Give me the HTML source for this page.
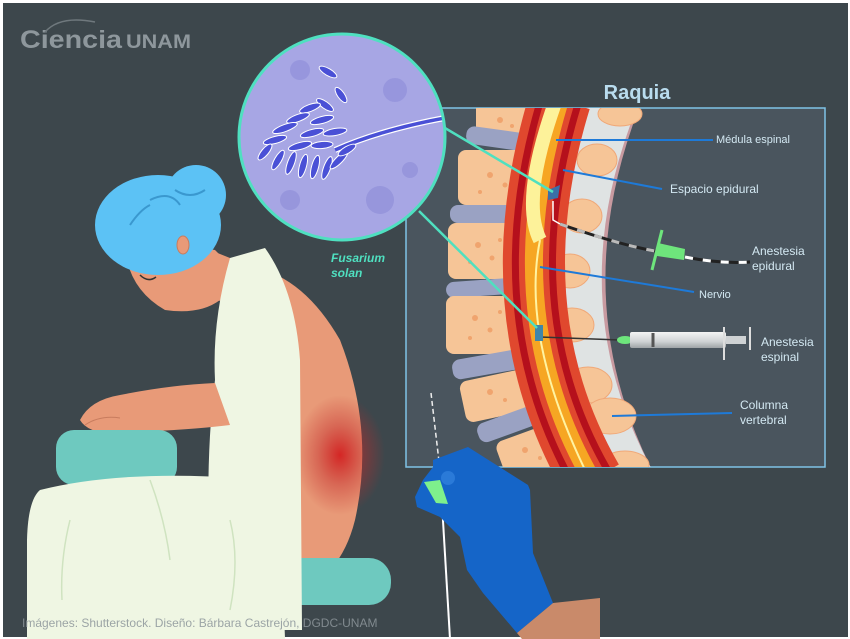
<!DOCTYPE html>
<html><head><meta charset="utf-8"><style>
html,body{margin:0;padding:0;background:#fff}
svg{display:block}
text{font-family:"Liberation Sans",sans-serif}
</style></head><body>
<svg width="850" height="639" viewBox="0 0 850 639" xmlns="http://www.w3.org/2000/svg">
<defs>
<radialGradient id="glow" cx="0.5" cy="0.5" r="0.5">
<stop offset="0" stop-color="#d42020" stop-opacity="0.95"/>
<stop offset="0.5" stop-color="#c42a2a" stop-opacity="0.45"/>
<stop offset="1" stop-color="#c42a2a" stop-opacity="0"/>
</radialGradient>
<clipPath id="cc"><circle cx="342" cy="137" r="103"/></clipPath>
<clipPath id="ic"><rect x="406" y="108" width="419" height="359"/></clipPath>
<linearGradient id="syr" x1="0" y1="0" x2="0" y2="1"><stop offset="0" stop-color="#f4f4f4"/><stop offset="0.6" stop-color="#cfd2d4"/><stop offset="1" stop-color="#9ea3a6"/></linearGradient>
</defs>
<rect x="0" y="0" width="850" height="639" fill="#fff"/>
<rect x="3" y="3" width="845" height="634" fill="#3d474c"/>

<!-- logo -->
<text x="20" y="48" font-size="25" font-weight="bold" fill="#8e979c" textLength="102" lengthAdjust="spacingAndGlyphs">Ciencia</text>
<text x="126" y="48" font-size="19" font-weight="bold" fill="#8e979c" textLength="65" lengthAdjust="spacingAndGlyphs">UNAM</text>
<path d="M45 32 Q60 15 95 22" stroke="#6f787d" stroke-width="1.5" fill="none"/>

<!-- inset -->
<text x="637" y="99" font-size="20" font-weight="bold" fill="#b9dcee" text-anchor="middle">Raquia</text>
<rect x="406" y="108" width="419" height="359" fill="#4a555e" stroke="#7fc3e6" stroke-width="1.5"/>
<g clip-path="url(#ic)">
 <path d="M640 100 Q560 300 655 480" stroke="#c89aa0" stroke-width="4" fill="none"/>
 <path d="M612 100 Q532 300 628 480" stroke="#dfe3e3" stroke-width="52" fill="none"/>
 <g fill="#f6c597" stroke="#f0a878" stroke-width="1">
  <ellipse cx="620" cy="114" rx="22" ry="12"/>
  <ellipse cx="597" cy="160" rx="20" ry="16"/>
  <ellipse cx="582" cy="216" rx="20" ry="17"/>
  <ellipse cx="570" cy="271" rx="20" ry="17"/>
  <ellipse cx="572" cy="325" rx="22" ry="17"/>
  <ellipse cx="588" cy="385" rx="24" ry="18"/>
  <ellipse cx="610" cy="416" rx="26" ry="18"/>
  <ellipse cx="625" cy="465" rx="24" ry="14"/>
 </g>
 <g>
  <rect x="476" y="100" width="60" height="36" rx="8" fill="#f6c597"/>
  <rect x="466" y="130" width="70" height="18" rx="8" fill="#9aa2c3" transform="rotate(8 500 139)"/>
  <rect x="458" y="150" width="68" height="55" rx="8" fill="#f6c597"/>
  <rect x="450" y="205" width="70" height="18" rx="8" fill="#9aa2c3"/>
  <rect x="448" y="223" width="70" height="56" rx="8" fill="#f6c597"/>
  <rect x="446" y="280" width="72" height="16" rx="8" fill="#9aa2c3" transform="rotate(-4 480 288)"/>
  <rect x="446" y="296" width="74" height="58" rx="8" fill="#f6c597"/>
  <rect x="452" y="354" width="74" height="20" rx="8" fill="#9aa2c3" transform="rotate(-10 490 364)"/>
  <rect x="462" y="374" width="76" height="42" rx="8" fill="#f6c597" transform="rotate(-12 500 395)"/>
  <rect x="476" y="412" width="76" height="20" rx="8" fill="#9aa2c3" transform="rotate(-20 514 422)"/>
  <rect x="500" y="430" width="70" height="46" rx="8" fill="#f6c597" transform="rotate(-20 535 453)"/>
 </g>
 <g fill="#f0a46e">
  <circle cx="500" cy="120" r="3"/><circle cx="512" cy="126" r="2"/><circle cx="490" cy="175" r="3"/><circle cx="505" cy="185" r="2.5"/><circle cx="480" cy="192" r="2"/>
  <circle cx="478" cy="245" r="3"/><circle cx="492" cy="258" r="2.5"/><circle cx="470" cy="262" r="2"/><circle cx="500" cy="240" r="2"/>
  <circle cx="475" cy="318" r="3"/><circle cx="490" cy="330" r="2.5"/><circle cx="470" cy="338" r="2"/><circle cx="500" cy="312" r="2"/>
  <circle cx="490" cy="392" r="3"/><circle cx="505" cy="400" r="2"/><circle cx="525" cy="450" r="3"/><circle cx="540" cy="458" r="2"/>
 </g>
 <path d="M560 100 Q495 312 592 480" stroke="#e0482e" stroke-width="62" fill="none"/>
 <path d="M560 100 Q495 312 592 480" stroke="#b5101c" stroke-width="44" fill="none"/>
 <path d="M560 100 Q495 312 592 480" stroke="#e0482e" stroke-width="30" fill="none"/>
 <path d="M560 100 Q495 312 592 480" stroke="#f6a623" stroke-width="18" fill="none"/>
 <path d="M556 100 Q520 200 540 240" stroke="#fdf29a" stroke-width="14" fill="none"/>
 <path d="M540 240 Q520 340 590 480" stroke="#fff3a0" stroke-width="2" fill="none"/>
 <g stroke="#1e7ad8" stroke-width="2" fill="none">
  <line x1="556" y1="140" x2="713" y2="140"/>
  <line x1="563" y1="170" x2="662" y2="189"/>
  <line x1="540" y1="267" x2="694" y2="292"/>
  <line x1="612" y1="416" x2="732" y2="413"/>
 </g>
 <path d="M553 201 L553 220 L560 224" stroke="#fff" stroke-width="1.5" fill="none"/>
 <path d="M560 224 Q620 245 655 251" stroke="#222" stroke-width="3" fill="none"/>
 <path d="M560 224 Q620 245 655 251" stroke="#bbb" stroke-width="3" stroke-dasharray="8 10" fill="none"/>
 <path d="M685 257 Q720 264 750 262" stroke="#222" stroke-width="3" fill="none"/>
 <path d="M685 257 Q720 264 750 262" stroke="#fff" stroke-width="3" stroke-dasharray="8 10" fill="none"/>
 <polygon points="658,243 685,249 684,260 657,256" fill="#6ee57c"/>
 <line x1="662" y1="230" x2="652" y2="270" stroke="#6ee57c" stroke-width="3"/>
 <polygon points="548,190 560,185 558,198 548,200" fill="#3a6fa8"/>
 <line x1="540" y1="337" x2="620" y2="340" stroke="#333" stroke-width="1.5"/>
 <rect x="535" y="325" width="8" height="16" fill="#3f86a8"/>
 <ellipse cx="625" cy="340" rx="8" ry="4" fill="#6ee57c"/>
 <rect x="630" y="332" width="96" height="16" rx="2" fill="url(#syr)"/>
 <rect x="726" y="336" width="20" height="8" fill="#cfd2d4"/>
 <line x1="724" y1="327" x2="724" y2="360" stroke="#ddd" stroke-width="2"/>
 <line x1="750" y1="327" x2="750" y2="350" stroke="#ddd" stroke-width="2"/>
 <line x1="653" y1="333" x2="653" y2="347" stroke="#555" stroke-width="3"/>
</g>
<g fill="#d3e8f2" font-size="11">
 <text x="716" y="143">Médula espinal</text>
 <text x="670" y="193" font-size="12">Espacio epidural</text>
 <text x="752" y="255" font-size="12">Anestesia</text>
 <text x="752" y="270" font-size="12">epidural</text>
 <text x="699" y="298">Nervio</text>
 <text x="761" y="346" font-size="12">Anestesia</text>
 <text x="761" y="361" font-size="12">espinal</text>
 <text x="740" y="409" font-size="12">Columna</text>
 <text x="740" y="424" font-size="12">vertebral</text>
</g>

<line x1="445" y1="128" x2="553" y2="192" stroke="#4fe0c0" stroke-width="2.5"/>
<line x1="419" y1="211" x2="537" y2="328" stroke="#4fe0c0" stroke-width="2.5"/>

<circle cx="342" cy="137" r="103" fill="#a7a6e4"/>
<g clip-path="url(#cc)">
 <g fill="#8c8cd8" opacity="0.6">
  <circle cx="300" cy="70" r="10"/><circle cx="395" cy="90" r="12"/><circle cx="380" cy="200" r="14"/><circle cx="290" cy="200" r="10"/><circle cx="410" cy="170" r="8"/>
 </g>
 <path d="M335 150 Q380 130 445 118" stroke="#fff" stroke-width="6" fill="none"/>
 <path d="M335 150 Q380 130 445 118" stroke="#4a50d6" stroke-width="3.5" fill="none"/>
 <g fill="#4a50d6" stroke="#fff" stroke-width="1">
  <ellipse cx="328" cy="72" rx="10" ry="3.5" transform="rotate(30 328 72)"/>
  <ellipse cx="341" cy="95" rx="9" ry="3.5" transform="rotate(55 341 95)"/>
  <ellipse cx="325" cy="105" rx="10" ry="3.5" transform="rotate(35 325 105)"/>
  <ellipse cx="310" cy="108" rx="11" ry="3.5" transform="rotate(-20 310 108)"/>
  <ellipse cx="298" cy="118" rx="12" ry="3.5" transform="rotate(-20 298 118)"/>
  <ellipse cx="322" cy="120" rx="12" ry="3.5" transform="rotate(-15 322 120)"/>
  <ellipse cx="285" cy="128" rx="13" ry="3.5" transform="rotate(-20 285 128)"/>
  <ellipse cx="312" cy="133" rx="12" ry="3.5" transform="rotate(-15 312 133)"/>
  <ellipse cx="335" cy="132" rx="12" ry="3.5" transform="rotate(-10 335 132)"/>
  <ellipse cx="275" cy="140" rx="12" ry="3.5" transform="rotate(-15 275 140)"/>
  <ellipse cx="300" cy="146" rx="12" ry="3.5" transform="rotate(-15 300 146)"/>
  <ellipse cx="322" cy="145" rx="11" ry="3.5" transform="rotate(-5 322 145)"/>
  <ellipse cx="265" cy="152" rx="10" ry="3.5" transform="rotate(-50 265 152)"/>
  <ellipse cx="278" cy="160" rx="11" ry="3.5" transform="rotate(-60 278 160)"/>
  <ellipse cx="291" cy="163" rx="12" ry="3.5" transform="rotate(-70 291 163)"/>
  <ellipse cx="303" cy="166" rx="12" ry="3.5" transform="rotate(-75 303 166)"/>
  <ellipse cx="315" cy="167" rx="12" ry="3.5" transform="rotate(-75 315 167)"/>
  <ellipse cx="327" cy="168" rx="12" ry="3.5" transform="rotate(-70 327 168)"/>
  <ellipse cx="339" cy="160" rx="12" ry="3.5" transform="rotate(-45 339 160)"/>
  <ellipse cx="347" cy="150" rx="10" ry="3.5" transform="rotate(-30 347 150)"/>
 </g>
</g>
<circle cx="342" cy="137" r="103" fill="none" stroke="#4fe0c0" stroke-width="3"/>
<text x="331" y="262" font-size="12" font-style="italic" font-weight="bold" fill="#4fe0c0">Fusarium</text>
<text x="331" y="277" font-size="12" font-style="italic" font-weight="bold" fill="#4fe0c0">solan</text>

<path d="M240 265 Q300 270 340 340 Q375 430 355 520 Q340 580 290 595 L240 595 Z" fill="#e89a78"/>
<ellipse cx="340" cy="455" rx="45" ry="60" fill="url(#glow)"/>
<rect x="249" y="558" width="142" height="47" rx="22" fill="#6ec9bf"/>
<path d="M125 250 Q150 240 215 250 L235 270 L220 300 Q200 315 165 310 Q130 290 125 250 Z" fill="#e89a78"/>
<path d="M140 275 Q148 283 156 277" stroke="#333" stroke-width="1.5" fill="none"/>
<path d="M215 252 L240 262 L245 305 L215 300 Z" fill="#e89a78"/>
<ellipse cx="158" cy="225" rx="63" ry="50" fill="#5cc2f5"/>
<circle cx="196" cy="195" r="30" fill="#5cc2f5"/>
<path d="M150 200 Q170 190 180 205 M175 190 Q190 200 205 190 M130 225 Q140 210 150 205" stroke="#3a98cf" stroke-width="2" fill="none"/>
<ellipse cx="183" cy="245" rx="6" ry="9" fill="#e89a78" stroke="#c87c5e"/>
<path d="M230 258 L265 248 Q295 290 300 360 L302 630 L235 630 L210 560 Q205 460 215 380 Q212 320 230 258 Z" fill="#eff6e3"/>
<path d="M215 383 Q170 385 120 395 Q90 400 80 420 Q90 437 130 432 Q190 430 230 425 Z" fill="#e89a78"/>
<path d="M85 425 Q100 415 120 418" stroke="#c87c5e" stroke-width="1" fill="none"/>
<rect x="56" y="430" width="121" height="55" rx="18" fill="#6ec9bf"/>
<path d="M40 490 Q120 470 240 478 L280 500 L285 639 L27 639 L27 540 Q28 500 40 490 Z" fill="#eff6e3"/>
<path d="M150 480 Q165 520 170 560 M70 520 Q60 560 62 600 M230 520 Q240 560 230 610" stroke="#cfe3c0" stroke-width="1.5" fill="none"/>

<line x1="431" y1="393" x2="440" y2="470" stroke="#eee" stroke-width="1.5" stroke-dasharray="5 3"/>
<line x1="440" y1="470" x2="450" y2="639" stroke="#fff" stroke-width="2"/>
<polygon points="433,460 468,447 528,485 530,490 533,553 553,603 517,633 483,593 467,570 460,537 440,517 417,507 415,497 423,480 433,467" fill="#1565c8"/>
<polygon points="553,603 600,598 600,639 522,639 517,633" fill="#c98a6a"/>
<circle cx="448" cy="478" r="7" fill="#2a7ad8"/>
<polygon points="424,482 440,480 448,504 436,503" fill="#7ef08c"/>

<text x="22" y="627" font-size="12" fill="#8d969b" opacity="0.85">Imágenes: Shutterstock. Diseño: Bárbara Castrejón, DGDC-UNAM</text>
</svg>
</body></html>
